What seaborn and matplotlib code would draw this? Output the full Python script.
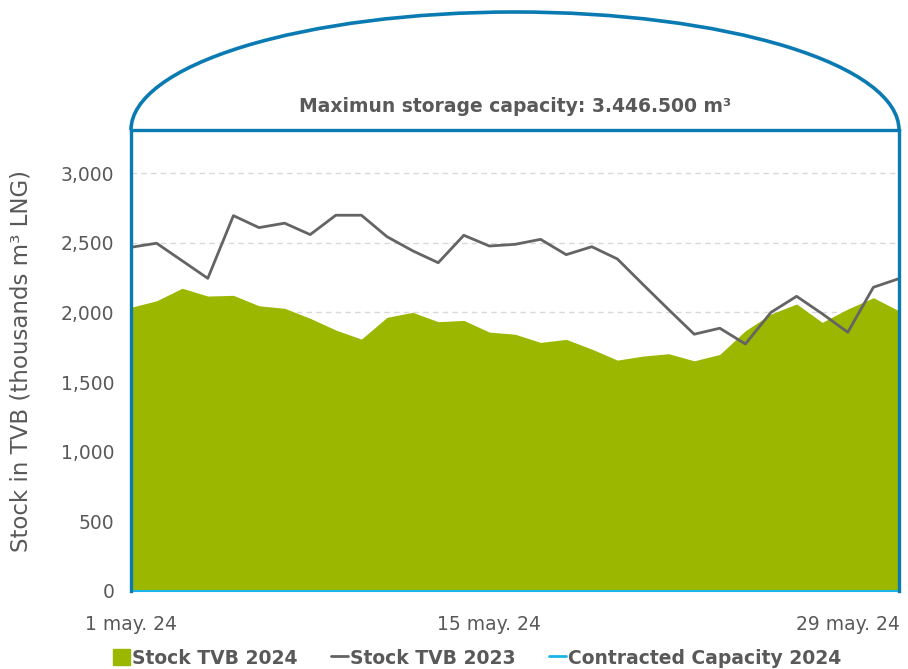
import matplotlib
matplotlib.use("Agg")
import matplotlib.pyplot as plt
import matplotlib.patches as mpatches
from matplotlib.lines import Line2D
import seaborn as sns
import pandas as pd

# data (thousands m3 LNG), 1-31 May
dates = pd.date_range("2024-05-01", "2024-05-31", freq="D")
stock_2024 = [2036, 2083, 2173, 2117, 2122, 2047, 2029, 1957, 1873, 1808,
              1964, 2000, 1933, 1942, 1858, 1843, 1784, 1806, 1736, 1657,
              1686, 1703, 1652, 1698, 1868, 1988, 2060, 1928, 2024, 2105, 2011]
stock_2023 = [2467, 2496, 2370, 2244, 2694, 2608, 2640, 2558, 2697, 2697,
              2543, 2442, 2356, 2553, 2476, 2488, 2524, 2414, 2471, 2383,
              2200, 2020, 1843, 1886, 1773, 2000, 2115, 1990, 1857, 2180, 2242]
contracted_2024 = [0] * 31
tick_dates = ["2024-05-01", "2024-05-15", "2024-05-29"]
tick_labels = ["1 may. 24", "15 may. 24", "29 may. 24"]
y_ticks = [0, 500, 1000, 1500, 2000, 2500, 3000]
capacity_text = "Maximun storage capacity: 3.446.500 m³"

df = pd.DataFrame({"date": dates, "s2024": stock_2024, "s2023": stock_2023,
                   "contracted": contracted_2024})

GREEN = "#9bb700"
GRAY = "#646464"
TANK = "#0a7bb2"
LIGHTBLUE = "#1ab4e8"
TXT = "#595959"

sns.set_style("white")
plt.rcParams["font.family"] = ["DejaVu Sans"]

fig = plt.figure(figsize=(9.08, 6.69), dpi=100)
ax = fig.add_axes([131 / 908, 1 - 591 / 669, 768 / 908, 461 / 669])

ax.fill_between(df["date"], 0, df["s2024"], color=GREEN, linewidth=0, zorder=2)
sns.lineplot(data=df, x="date", y="s2023", color=GRAY, linewidth=2, ax=ax, zorder=3)
sns.lineplot(data=df, x="date", y="contracted", color=LIGHTBLUE, linewidth=1.5,
             ax=ax, zorder=4, clip_on=False)

ax.set_xlim(dates[0], dates[-1])
ax.set_ylim(0, 461 / 0.13933)
ax.set_yticks(y_ticks)
ax.set_yticklabels([f"{v:,}" for v in y_ticks])
ax.set_xticks(pd.to_datetime(tick_dates))
ax.set_xticklabels(tick_labels)
ax.tick_params(axis="both", colors=TXT, labelsize=13.5, length=0)
ax.tick_params(axis="x", pad=12, length=5, color="#d0d0d0", direction="out")
ax.tick_params(axis="y", pad=12)
ax.yaxis.grid(True, linestyle=(0, (4, 3)), color="#d9d9d9", linewidth=1)
ax.set_axisbelow(True)
ax.set_xlabel("")
ax.set_ylabel("Stock in TVB (thousands m³ LNG)", color=TXT, fontsize=16.5)
ax.yaxis.set_label_coords(-(131 - 33) / 768, 0.5)

for side in ["left", "right", "top"]:
    ax.spines[side].set_color(TANK)
    ax.spines[side].set_linewidth(2.4)
    ax.spines[side].set_zorder(6)
ax.spines["bottom"].set_visible(False)

# tank dome
dome = mpatches.Arc((0.5, 1.0), 1.0, 2 * 118 / 461, theta1=0, theta2=180,
                    transform=ax.transAxes, color=TANK, linewidth=2.6, clip_on=False)
ax.add_patch(dome)
ax.text(0.5, 1 + 23 / 461, capacity_text, transform=ax.transAxes, ha="center",
        va="center", fontsize=13.5, fontweight="bold", color=TXT)

handles = [
    mpatches.Patch(color=GREEN, label="Stock TVB 2024"),
    Line2D([0], [0], color=GRAY, linewidth=2, label="Stock TVB 2023"),
    Line2D([0], [0], color=LIGHTBLUE, linewidth=2, label="Contracted Capacity 2024"),
]
leg = fig.legend(handles=handles, loc="center", bbox_to_anchor=(477 / 908, 1 - 658 / 669),
                 ncol=3, frameon=False, handlelength=0.9, handleheight=0.9,
                 handletextpad=0.1, columnspacing=1.8, prop={"weight": "bold", "size": 13.5})
for t in leg.get_texts():
    t.set_color(TXT)

fig.savefig("out.png", dpi=100)
